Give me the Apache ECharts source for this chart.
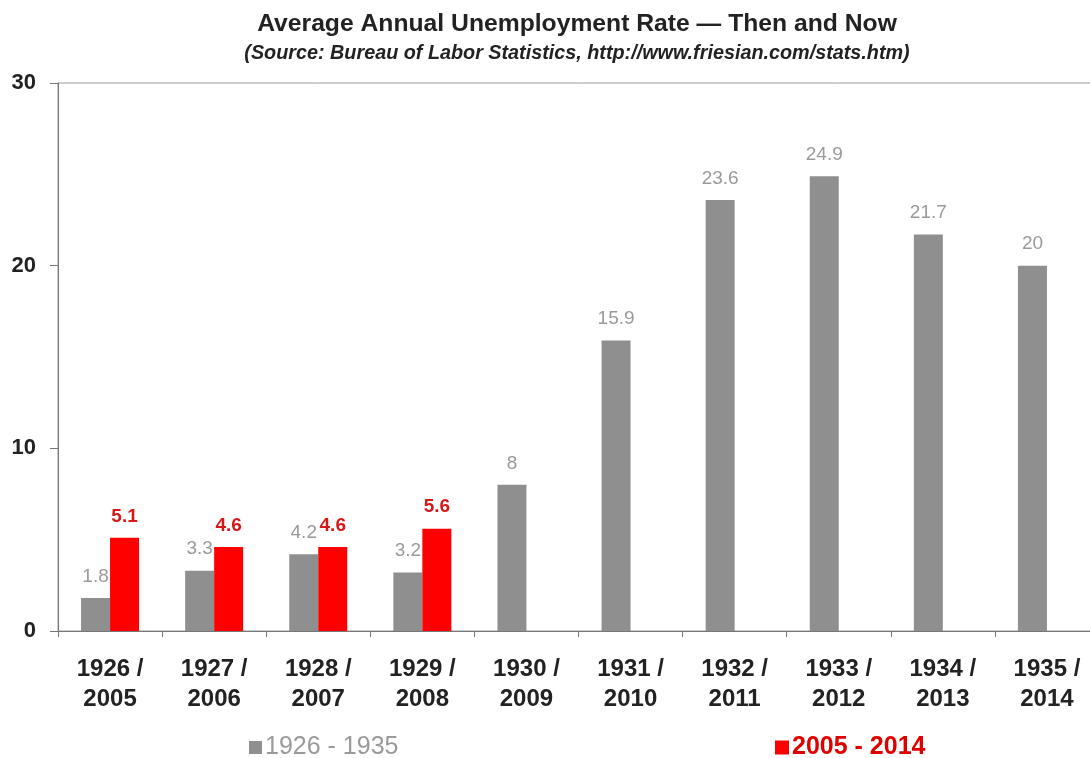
<!DOCTYPE html>
<html>
<head>
<meta charset="utf-8">
<script src="https://cdn.jsdelivr.net/npm/echarts@6/dist/echarts.min.js"></script>
<style>html,body{margin:0;padding:0;background:#fff;overflow:hidden}#c{width:1099px;height:758px}</style>
</head>
<body>
<div id="c"></div>
<script>
const categories = ['1926 /\n2005','1927 /\n2006','1928 /\n2007','1929 /\n2008','1930 /\n2009','1931 /\n2010','1932 /\n2011','1933 /\n2012','1934 /\n2013','1935 /\n2014'];
const thenValues = [1.8, 3.3, 4.2, 3.2, 8, 15.9, 23.6, 24.9, 21.7, 20];
const nowValues = [5.1, 4.6, 4.6, 5.6, null, null, null, null, null, null];
const thenName = '1926 - 1935';
const nowName = '2005 - 2014';
const titleText = 'Average Annual Unemployment Rate \u2014 Then and Now';
const subText = '(Source: Bureau of Labor Statistics, http://www.friesian.com/stats.htm)';

const chart = echarts.init(document.getElementById('c'), null, {renderer:'canvas'});
const font = 'Liberation Sans, Arial, sans-serif';
chart.setOption({
  animation: false,
  backgroundColor: '#fff',
  title: {
    text: titleText,
    subtext: subText,
    left: 572, top: 7, textAlign: 'center',
    itemGap: 7,
    textStyle: {fontFamily: font, fontSize: 24.7, fontWeight: 'bold', color: '#222'},
    subtextStyle: {fontFamily: font, fontSize: 19.8, fontWeight: 'bold', fontStyle: 'italic', color: '#222'}
  },
  legend: [
    {data: [thenName], left: 244, top: 730, itemWidth: 13, itemHeight: 13, itemGap: 4, icon: 'rect',
     textStyle: {fontFamily: font, fontSize: 25, color: '#9a9a9a', padding: [0,0,0,-2]}},
    {data: [nowName], left: 770, top: 730, itemWidth: 14, itemHeight: 14, itemGap: 4, icon: 'rect',
     textStyle: {fontFamily: font, fontSize: 25, fontWeight: 'bold', color: '#e00000', padding: [0,0,0,-2]}}
  ],
  grid: {left: 58, top: 83, right: 0, bottom: 127, show: true, borderColor: '#9a9a9a', borderWidth: 1},
  xAxis: {
    type: 'category', data: categories,
    axisLine: {lineStyle: {color: '#777', width: 1}},
    axisTick: {show: true, length: 6, lineStyle: {color: '#777'}},
    axisLabel: {fontFamily: font, fontSize: 24, fontWeight: 'bold', color: '#222', lineHeight: 30, margin: 23}
  },
  yAxis: {
    type: 'value', min: 0, max: 30, interval: 10,
    axisLine: {show: true, lineStyle: {color: '#777', width: 1}},
    axisTick: {show: true, length: 8, inside: false, lineStyle: {color: '#777'}},
    splitLine: {show: false},
    axisLabel: {fontFamily: font, fontSize: 22, fontWeight: 'bold', color: '#222', margin: 22}
  },
  series: [
    {name: thenName, type: 'bar', data: thenValues, barWidth: 29, barGap: '0%',
     itemStyle: {color: '#8f8f8f'},
     label: {show: true, position: 'top', distance: 12, fontFamily: font, fontSize: 19, color: '#9a9a9a'}},
    {name: nowName, type: 'bar', data: nowValues, barWidth: 29,
     itemStyle: {color: '#ff0000'},
     label: {show: true, position: 'top', distance: 12, fontFamily: font, fontSize: 19, fontWeight: 'bold', color: '#d81818'}}
  ]
});
</script>
</body>
</html>
